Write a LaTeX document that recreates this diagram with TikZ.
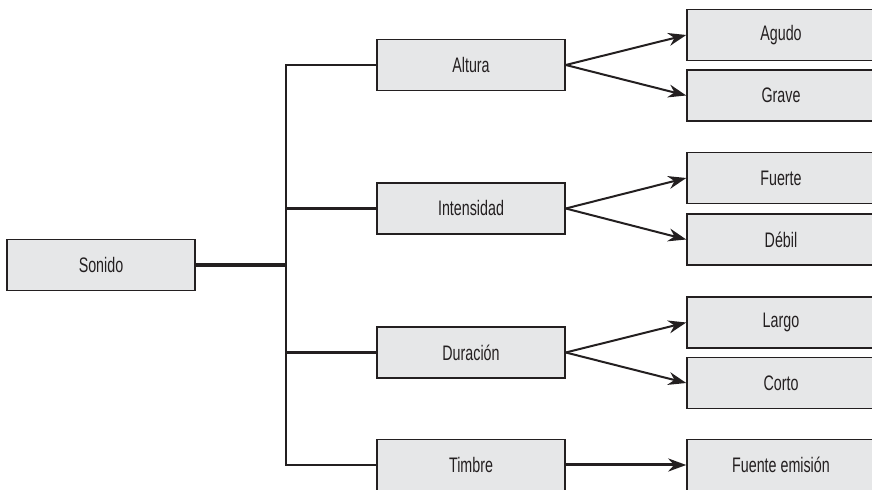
\documentclass[tikz,border=0pt]{standalone}
\usepackage{fontspec}
\setmainfont{Liberation Sans}[FakeStretch=0.68]
\usetikzlibrary{arrows.meta}
\definecolor{boxgray}{HTML}{E6E7E8}
\definecolor{ink}{HTML}{231F20}
\tikzset{
  box/.style={draw=ink, fill=boxgray, line width=0.75pt, minimum width=94pt,
    minimum height=25.5pt, inner sep=0pt, text=ink,
    font=\fontsize{10.5}{12}\selectfont},
  link/.style={draw=ink, line width=1pt},
  heavy/.style={draw=ink, line width=1.6pt},
  arr/.style={draw=ink, line width=1pt, -{Stealth[length=9pt,width=6.5pt]}},
}
\begin{document}
\begin{tikzpicture}[x=0.5pt,y=-0.5pt]
  \useasboundingbox (0,0) rectangle (872,490);
  \clip (0,0) rectangle (872,490);
  % left column
  \node[box] (sonido) at (101,265) {Sonido};
  \coordinate (trunk) at (286,265);
  % middle column
  \node[box] (altura) at (471,65) {Altura};
  \node[box] (intensidad) at (471,208.5) {Intensidad};
  \node[box] (duracion) at (471,352.5) {Duración};
  \node[box] (timbre) at (471,465) {Timbre};
  % right column
  \node[box] (agudo) at (781,35) {Agudo};
  \node[box] (grave) at (781,95.5) {Grave};
  \node[box] (fuerte) at (781,178) {Fuerte};
  \node[box] (debil) at (781,239.5) {Débil};
  \node[box] (largo) at (781,322.5) {Largo};
  \node[box] (corto) at (781,383) {Corto};
  \node[box] (fuente) at (781,465) {Fuente emisión};
  % tree lines
  \draw[heavy] (sonido.east) -- (trunk);
  \draw[link] (altura.west) -| (trunk) |- (timbre.west);
  \draw[heavy] (trunk |- intensidad.west) -- (intensidad.west);
  \draw[heavy] (trunk |- duracion.west) -- (duracion.west);
  % arrows
  \draw[arr] (altura.east) -- (agudo.west);
  \draw[arr] (altura.east) -- (grave.west);
  \draw[arr] (intensidad.east) -- (fuerte.west);
  \draw[arr] (intensidad.east) -- (debil.west);
  \draw[arr] (duracion.east) -- (largo.west);
  \draw[arr] (duracion.east) -- (corto.west);
  \draw[arr, line width=1.5pt] (timbre.east) -- (fuente.west);
\end{tikzpicture}
\end{document}
